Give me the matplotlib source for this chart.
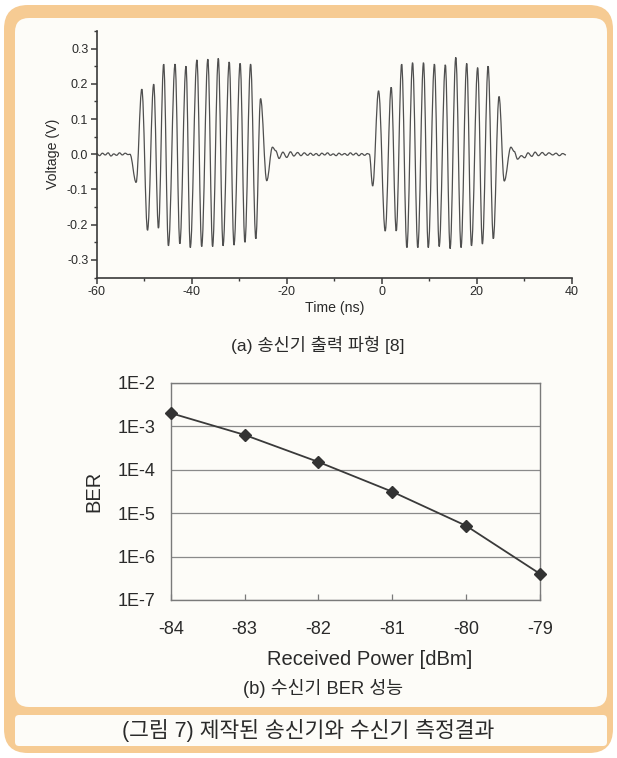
import matplotlib
matplotlib.use("Agg")
import matplotlib.pyplot as plt
from matplotlib.patches import FancyBboxPatch, PathPatch
from matplotlib.path import Path
from matplotlib.ticker import MultipleLocator, FixedLocator, FixedFormatter

plt.rcParams['font.family'] = ['Liberation Sans', 'Noto Sans CJK KR', 'DejaVu Sans']

# ---- (a) transmitter output waveform (time in ns, volts) ----
# turning points of the trace
t_quiet1 = [-60.0, -59.4, -58.8, -58.2, -57.6, -57.0, -56.4, -55.8, -55.2, -54.6, -54.0, -53.4, -53.0]
v_quiet1 = [0.002, -0.004, 0.003, -0.002, 0.004, -0.005, 0.001, -0.003, 0.004, -0.002, 0.003, -0.001, 0.0]

t_burst1 = [-51.7, -50.5, -49.3, -48.0, -47.0, -45.9, -44.9, -43.5, -42.5, -41.2, -40.3,
            -38.9, -37.9, -36.6, -35.6, -34.4, -33.4, -32.1, -31.1, -29.8, -28.8, -27.6,
            -26.5, -25.5, -24.2]
v_burst1 = [-0.080, 0.185, -0.216, 0.199, -0.210, 0.256, -0.260, 0.256, -0.254, 0.250, -0.265,
            0.268, -0.262, 0.270, -0.262, 0.272, -0.260, 0.262, -0.258, 0.258, -0.250, 0.256,
            -0.240, 0.158, -0.075]

t_ring1 = [-23.0, -22.3, -21.6, -20.8, -20.0, -19.2, -18.5, -17.7, -17.0, -16.3, -15.6]
v_ring1 = [0.020, 0.010, -0.012, 0.006, -0.009, 0.007, -0.005, 0.005, -0.004, 0.004, -0.003]

t_quiet2 = [-15.0, -14.4, -13.8, -13.2, -12.6, -12.0, -11.4, -10.8, -10.2, -9.6, -9.0, -8.4,
            -7.8, -7.2, -6.6, -6.0, -5.4, -4.8, -4.2, -3.6, -3.0, -2.6]
v_quiet2 = [0.003, -0.003, 0.002, -0.004, 0.003, -0.002, 0.004, -0.003, 0.001, -0.004, 0.003,
            -0.002, 0.002, -0.003, 0.004, -0.002, 0.003, -0.004, 0.002, -0.003, 0.002, 0.0]

t_burst2 = [-1.9, -0.66, 0.74, 2.0, 3.06, 4.2, 5.3, 6.5, 7.6, 8.8, 9.8, 11.1, 12.1, 13.4, 14.4,
            15.6, 16.7, 17.9, 18.9, 20.2, 21.2, 22.4, 23.5, 24.7, 25.8]
v_burst2 = [-0.090, 0.180, -0.218, 0.190, -0.218, 0.256, -0.265, 0.260, -0.265, 0.260, -0.265,
            0.256, -0.262, 0.254, -0.268, 0.275, -0.265, 0.258, -0.260, 0.246, -0.255, 0.250,
            -0.240, 0.164, -0.076]

t_ring2 = [27.2, 27.9, 28.6, 29.4, 30.1, 30.8, 31.6, 32.3, 33.0, 33.8, 34.5, 35.2, 36.0,
           36.7, 37.4, 38.1, 38.8]
v_ring2 = [0.020, 0.008, -0.014, -0.004, -0.010, 0.004, -0.006, 0.006, -0.004, 0.005, -0.003,
           0.004, -0.002, 0.003, -0.004, 0.002, -0.002]

# ---- (b) receiver BER ----
power_dbm = [-84, -83, -82, -81, -80, -79]
ber = [2.0e-3, 6.3e-4, 1.5e-4, 3.1e-5, 5.1e-6, 4.0e-7]
ber_ticks = [1e-7, 1e-6, 1e-5, 1e-4, 1e-3, 1e-2]
ber_labels = ['1E-7', '1E-6', '1E-5', '1E-4', '1E-3', '1E-2']

t_all = t_quiet1 + t_burst1 + t_ring1 + t_quiet2 + t_burst2 + t_ring2
v_all = v_quiet1 + v_burst1 + v_ring1 + v_quiet2 + v_burst2 + v_ring2

W, H = 617, 758
fig = plt.figure(figsize=(W / 100, H / 100), dpi=100)

# page background in pixel coordinates
bg = fig.add_axes([0, 0, 1, 1])
bg.set_xlim(0, W)
bg.set_ylim(H, 0)
bg.axis('off')
orange = '#F6CB93'
bg.add_patch(FancyBboxPatch((4, 5), W - 8, H - 10, boxstyle='round,pad=0,rounding_size=24',
                            fc=orange, ec='none'))
bg.add_patch(FancyBboxPatch((15, 18), 592, 689, boxstyle='round,pad=0,rounding_size=14',
                            fc='#FDFCF8', ec='none'))
bg.add_patch(FancyBboxPatch((15, 715), 592, 31, boxstyle='round,pad=0,rounding_size=4',
                            fc='#FDFCF8', ec='none'))

txt = '#2a2a2a'
kr = ['Liberation Sans', 'Noto Sans CJK KR']

# ---- top panel ----
ax1 = fig.add_axes([96.7 / W, 1 - 277.5 / H, 475 / W, 246.5 / H])
ax1.set_facecolor('none')
# smooth trace through the turning points (flat tangent at each one)
verts = [(t_all[0], v_all[0])]
codes = [Path.MOVETO]
for i in range(1, len(t_all)):
    t0, v0 = t_all[i - 1], v_all[i - 1]
    t1, v1 = t_all[i], v_all[i]
    dt = t1 - t0
    verts += [(t0 + 0.37 * dt, v0), (t1 - 0.37 * dt, v1), (t1, v1)]
    codes += [Path.CURVE4] * 3
ax1.add_patch(PathPatch(Path(verts, codes), fc='none', ec='#4f4f4f', lw=0.9))
ax1.set_xlim(-60, 40)
ax1.set_ylim(-0.35, 0.35)
ax1.xaxis.set_minor_locator(MultipleLocator(10))
ax1.yaxis.set_minor_locator(MultipleLocator(0.05))
ax1.set_yticks([-0.3, -0.2, -0.1, 0.0, 0.1, 0.2, 0.3])
ax1.set_yticklabels(['-0.3', '-0.2', '-0.1', '0.0', '0.1', '0.2', '0.3'])
ax1.set_xticks([-60, -40, -20, 0, 20, 40])
ax1.set_xticklabels(['-60', '-40', '-20', '0', '20', '40'])
for s in ['top', 'right']:
    ax1.spines[s].set_visible(False)
for s in ['left', 'bottom']:
    ax1.spines[s].set_color('#3a3a3a')
    ax1.spines[s].set_linewidth(1.2)
ax1.tick_params(which='major', direction='out', length=4, width=1.1, color='#3a3a3a',
                labelsize=9, labelcolor=txt, pad=2)
ax1.tick_params(which='minor', direction='out', length=2.5, width=1.0, color='#3a3a3a')
ax1.set_xlabel('Time (ns)', fontsize=10.2, color=txt, labelpad=2)
ax1.set_ylabel('Voltage (V)', fontsize=10.2, color=txt, labelpad=5)

fig.text(318 / W, 1 - 345 / H, '(a) 송신기 출력 파형 [8]', ha='center', va='center',
         fontsize=12.6, color=txt, family=kr, weight='light')

# ---- bottom panel ----
ax2 = fig.add_axes([170.7 / W, 1 - 600 / H, 369.3 / W, 217.3 / H])
ax2.set_facecolor('none')
ax2.set_yscale('log')
ax2.set_ylim(1e-7, 1e-2)
ax2.set_xlim(-84, -79)
ax2.plot(power_dbm, ber, color='#3a3a3a', lw=1.3, marker='D', ms=6,
         mfc='#333333', mec='#333333', clip_on=False, zorder=3)
ax2.yaxis.set_major_locator(FixedLocator(ber_ticks))
ax2.yaxis.set_major_formatter(FixedFormatter(ber_labels))
ax2.yaxis.set_minor_locator(FixedLocator([]))
ax2.set_xticks(power_dbm)
ax2.set_xticklabels([str(p) for p in power_dbm])
ax2.grid(axis='y', color='#8a8a8a', lw=0.9)
for s in ax2.spines.values():
    s.set_color('#7a7a7a')
    s.set_linewidth(1.0)
ax2.tick_params(axis='x', direction='in', length=4, width=0.9, color='#7a7a7a',
                labelsize=13, labelcolor=txt, pad=15)
ax2.tick_params(axis='y', length=0, labelsize=13, labelcolor=txt, pad=11)
ax2.set_xlabel('Received Power [dBm]', fontsize=14.5, color=txt)
ax2.xaxis.set_label_coords(0.54, -0.228)
ax2.set_ylabel('BER', fontsize=14.5, color=txt, labelpad=10)

fig.text(323 / W, 1 - 688 / H, '(b) 수신기 BER 성능', ha='center', va='center',
         fontsize=13.2, color=txt, family=kr, weight='light')

fig.text(308 / W, 1 - 730 / H, '(그림 7) 제작된 송신기와 수신기 측정결과', ha='center', va='center',
         fontsize=15.5, color=txt, family=kr, weight='light')

fig.savefig('out.png', dpi=100)
